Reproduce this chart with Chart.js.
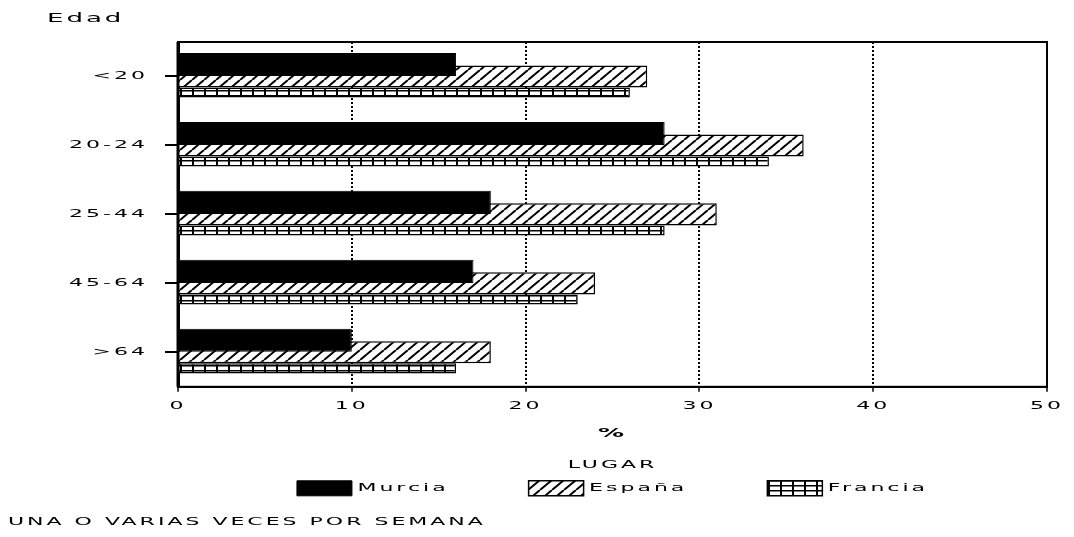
<!DOCTYPE html>
<html>
<head>
<meta charset="utf-8">
<script src="https://cdn.jsdelivr.net/npm/chart.js@4/dist/chart.umd.min.js"></script>
<style>
html,body{margin:0;padding:0;background:#fff;}
#wrap{width:1074px;height:537px;}
</style>
</head>
<body>
<div id="wrap"><canvas id="c" width="1074" height="537"></canvas></div>
<script>
const categories = ['<20', '20-24', '25-44', '45-64', '>64'];
const murcia  = [16, 28, 18, 17, 10];
const espana  = [27, 36, 31, 24, 18];
const francia = [26, 34, 28, 23, 16];
const seriesNames = ['Murcia', 'España', 'Francia'];
const xTicks = [0, 10, 20, 30, 40, 50];
const yAxisLabel = 'Edad';
const xAxisLabel = '%';
const legendTitle = 'LUGAR';
const footnote = 'UNA O VARIAS VECES POR SEMANA';

const FONT = 'DejaVu Sans';
const SPACING = '1.5px';
const SX = 2.0; // horizontal stretch of the old plotter lettering

// Stretch text horizontally (wide plotter font look), keeping it real text.
(function () {
  const P = CanvasRenderingContext2D.prototype;
  const oFill = P.fillText, oMeasure = P.measureText;
  P.fillText = function (t, x, y, mw) {
    this.save();
    this.translate(x, y);
    this.scale(SX, 1);
    if (mw === undefined) oFill.call(this, t, 0, 0);
    else oFill.call(this, t, 0, 0, mw / SX);
    this.restore();
  };
  P.measureText = function (t) {
    const m = oMeasure.call(this, t);
    return {
      width: m.width * SX,
      actualBoundingBoxLeft: m.actualBoundingBoxLeft * SX,
      actualBoundingBoxRight: m.actualBoundingBoxRight * SX,
      actualBoundingBoxAscent: m.actualBoundingBoxAscent,
      actualBoundingBoxDescent: m.actualBoundingBoxDescent,
      fontBoundingBoxAscent: m.fontBoundingBoxAscent,
      fontBoundingBoxDescent: m.fontBoundingBoxDescent
    };
  };
})();

function hatchPattern() {
  const w = 12, h = 10;
  const cv = document.createElement('canvas');
  cv.width = w; cv.height = h;
  const g = cv.getContext('2d');
  g.fillStyle = '#fff'; g.fillRect(0, 0, w, h);
  g.strokeStyle = '#000'; g.lineWidth = 2;
  for (const dx of [-w, 0, w]) {
    g.beginPath(); g.moveTo(dx, h); g.lineTo(dx + w, 0); g.stroke();
  }
  return g.createPattern(cv, 'repeat');
}
function gridPattern() {
  const w = 12, h = 5;
  const cv = document.createElement('canvas');
  cv.width = w; cv.height = h;
  const g = cv.getContext('2d');
  g.fillStyle = '#fff'; g.fillRect(0, 0, w, h);
  g.fillStyle = '#000';
  g.fillRect(0, 0, w, 1.5);
  g.fillRect(0, 0, 2, h);
  return g.createPattern(cv, 'repeat');
}

const spacingPlugin = {
  id: 'spacing',
  beforeUpdate(c) { c.ctx.letterSpacing = SPACING; },
  beforeLayout(c) { c.ctx.letterSpacing = SPACING; },
  beforeDraw(c) { c.ctx.letterSpacing = SPACING; }
};
const framePlugin = {
  id: 'frame',
  afterDatasetsDraw(c) {
    const a = c.chartArea, ctx = c.ctx;
    ctx.save();
    ctx.strokeStyle = '#000';
    ctx.lineWidth = 2;
    ctx.strokeRect(a.left, a.top, a.right - a.left, a.bottom - a.top);
    ctx.lineWidth = 3;
    ctx.beginPath(); ctx.moveTo(a.left, a.top); ctx.lineTo(a.left, a.bottom); ctx.stroke();
    ctx.restore();
  },
  afterDraw(c) {
    const ctx = c.ctx;
    ctx.save();
    ctx.letterSpacing = SPACING;
    ctx.font = '13px "' + FONT + '"';
    ctx.fillStyle = '#000';
    ctx.textBaseline = 'middle';
    ctx.textAlign = 'left';
    ctx.fillText(yAxisLabel, 47, 19);
    ctx.restore();
  }
};

const chart = new Chart(document.getElementById('c'), {
  type: 'bar',
  data: {
    labels: categories,
    datasets: [
      { label: seriesNames[0], data: murcia, backgroundColor: '#000', borderColor: '#000', borderWidth: 1, categoryPercentage: 0.523, barPercentage: 1.92 },
      { label: seriesNames[1], data: espana, backgroundColor: hatchPattern(), borderColor: '#000', borderWidth: 1.5, categoryPercentage: 0.6, barPercentage: 1.6 },
      { label: seriesNames[2], data: francia, backgroundColor: gridPattern(), borderColor: '#000', borderWidth: 1.5, categoryPercentage: 0.698, barPercentage: 0.625 }
    ]
  },
  options: {
    indexAxis: 'y',
    responsive: false,
    animation: false,
    devicePixelRatio: 1,
    layout: { padding: { left: 8, right: 27, top: 42, bottom: 4 } },
    scales: {
      x: {
        min: 0, max: 50,
        afterBuildTicks(s) { s.ticks = xTicks.map(v => ({ value: v })); },
        grid: { display: true, color: '#000', lineWidth: 2, drawOnChartArea: true, drawTicks: true, tickLength: 5, tickColor: '#000', tickWidth: 1.5 },
        border: { display: true, color: '#000', width: 2, dash: [2, 2] },
        ticks: { color: '#000', font: { family: FONT, size: 11 }, padding: 8 },
        title: { display: true, text: xAxisLabel, color: '#000', font: { family: FONT, size: 13, weight: 'bold' }, padding: { top: 5, bottom: 0 } }
      },
      y: {
        afterFit(s) { s.width = 170; },
        grid: { offset: false, drawOnChartArea: false, drawTicks: true, tickLength: 13, tickColor: '#000', lineWidth: 2 },
        border: { display: true, color: '#000', width: 3 },
        ticks: { color: '#000', font: { family: FONT, size: 11 }, padding: 17 }
      }
    },
    plugins: {
      legend: {
        position: 'bottom',
        fullSize: false,
        title: { display: true, text: legendTitle, color: '#000', font: { family: FONT, size: 11 }, padding: { top: 18, bottom: -72 } },
        labels: { color: '#000', font: { family: FONT, size: 11 }, boxWidth: 55, boxHeight: 15, padding: 80, useBorderRadius: false }
      },
      subtitle: {
        display: true, position: 'bottom', align: 'start', text: footnote, color: '#000',
        font: { family: FONT, size: 11, weight: 'normal' }, padding: { top: 10, bottom: 4 }
      },
      tooltip: { enabled: false }
    }
  },
  plugins: [spacingPlugin, framePlugin]
});
</script>
</body>
</html>
